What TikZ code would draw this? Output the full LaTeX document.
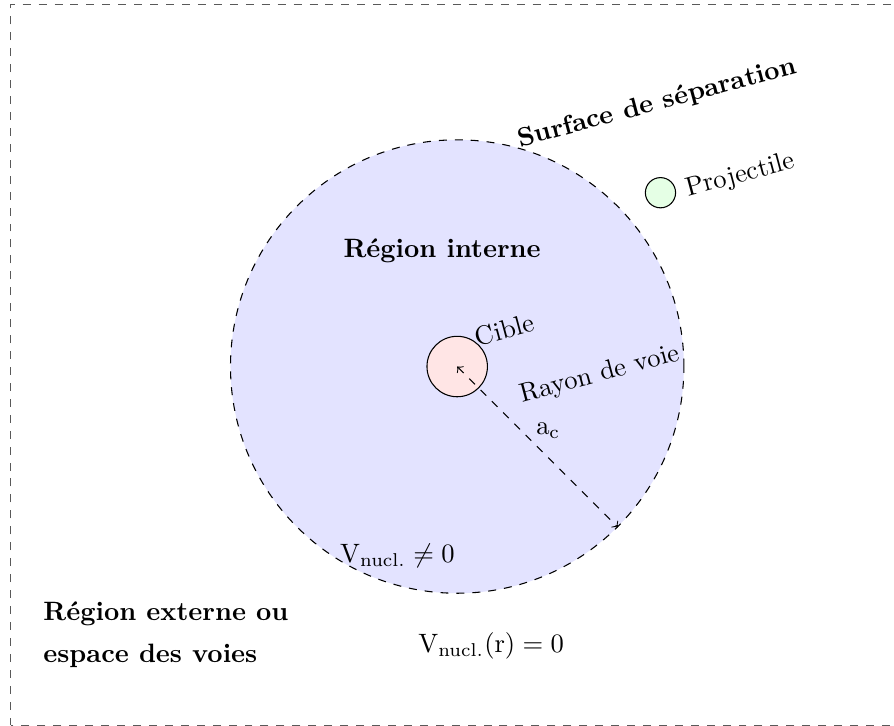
\documentclass[tikz,border=0pt]{standalone}
\usepackage{amsmath,amssymb}
\usepackage{tikz}
\usetikzlibrary{positioning}

\begin{document}
\begin{tikzpicture}[
    node distance=0.02cm,
    frame/.style={draw=black!65, dashed},
    zone/.style={draw, dashed, circle, fill=blue!11, minimum size=6cm, inner sep=0pt},
    particle/.style={draw, circle, inner sep=0pt},
    tag/.style={rotate=15},
    region/.style={font=\bfseries, align=left}
]

    \useasboundingbox (-6.05,-4.75) rectangle (5.78,4.85);
    \draw[frame] (-5.91,-4.75) rectangle (6.5,4.79);

    \node[zone] (inner) at (0,0) {};
    \node[particle, fill=red!10, minimum size=0.8cm] (cible) at (0,0) {};
    \node[particle, fill=green!10, minimum size=0.4cm] (proj) at (2.69,2.30) {};

    \node[region] (rint) at (-0.2,1.53) {Région interne};
    \node[region, anchor=west] (rext) at (-5.6,-3.55) {Région externe ou\\[4pt]espace des voies};
    \node[tag, font=\bfseries] (surf) at (2.65,3.48) {Surface de séparation};
    \node[tag, right=of proj] (lproj) {Projectile};
    \node[tag] (lcible) at (0.63,0.49) {Cible};
    \node[tag] (rayon) at (1.89,-0.11) {Rayon de voie};
    \node (vin) at (-0.79,-2.50) {$\mathrm{V_{nucl.}} \neq 0$};
    \node (vout) at (0.45,-3.7) {$\mathrm{V_{nucl.}(r)} = 0$};

    \draw[<->, dashed] (cible.center) -- (inner.-45) node[pos=0.4, right=2pt] {$\mathrm{a_c}$};

\end{tikzpicture}
\end{document}
